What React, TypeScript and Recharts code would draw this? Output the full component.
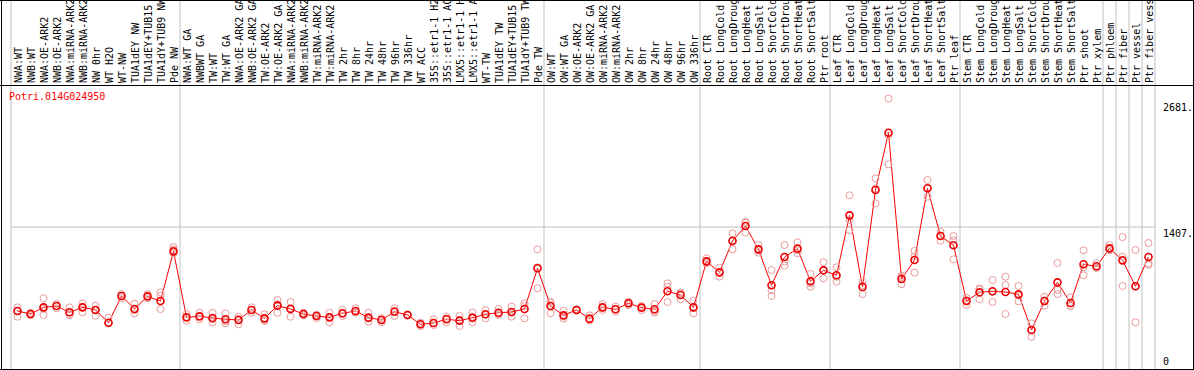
import { ComposedChart, Line, Scatter, XAxis, YAxis, ReferenceLine } from "recharts";

const gene = "Potri.014G024950";

// sample names, cut to 14 characters as in the source plot
const labels = [
  "NWA:WT", "NWB:WT", "NWA:OE-ARK2", "NWB:OE-ARK2", "NWA:miRNA-ARK2", "NWB:miRNA-ARK2",
  "NW 0hr", "WT H2O", "WT-NW", "TUA1dEY NW", "TUA1dEY+TUB15", "TUA1dY+TUB9 NW", "Pde NW",
  "NWA:WT GA", "NWBWT GA", "TW:WT", "TW:WT GA", "NWA:OE-ARK2 GA", "NWB:OE-ARK2 GA",
  "TW:OE-ARK2", "TW:OE-ARK2 GA", "NWA:miRNA-ARK2", "NWB:miRNA-ARK2", "TW:miRNA-ARK2",
  "TW:miRNA-ARK2", "TW 2hr", "TW 8hr", "TW 24hr", "TW 48hr", "TW 96hr", "TW 336hr", "WT ACC",
  "35S::etr1-1 H2", "35S::etr1-1 AC", "LMX5::etr1-1 H", "LMX5::etr1-1 A", "WT-TW",
  "TUA1dEY TW", "TUA1dEY+TUB15", "TUA1dY+TUB9 TW", "Pde TW",
  "OW:WT", "OW:WT GA", "OW:OE-ARK2", "OW:OE-ARK2 GA", "OW:miRNA-ARK2", "OW:miRNA-ARK2",
  "OW 2hr", "OW 8hr", "OW 24hr", "OW 48hr", "OW 96hr", "OW 336hr",
  "Root CTR", "Root LongCold", "Root LongDroug", "Root LongHeat", "Root LongSalt",
  "Root ShortCold", "Root ShortDrou", "Root ShortHeat", "Root ShortSalt", "Ptr root",
  "Leaf CTR", "Leaf LongCold", "Leaf LongDroug", "Leaf LongHeat", "Leaf LongSalt",
  "Leaf ShortCold", "Leaf ShortDrou", "Leaf ShortHeat", "Leaf ShortSalt", "Ptr leaf",
  "Stem CTR", "Stem LongCold", "Stem LongDroug", "Stem LongHeat", "Stem LongSalt",
  "Stem ShortCold", "Stem ShortDrou", "Stem ShortHeat", "Stem ShortSalt", "Ptr shoot",
  "Ptr xylem", "Ptr phloem", "Ptr fiber", "Ptr vessel", "Ptr fiber vess",
];

const means = [
  575, 545, 611, 624, 562, 611, 585, 459, 724, 595, 720, 674, 1166,
  512, 522, 505, 493, 486, 585, 502, 628, 595, 545, 525, 512, 552, 575, 509, 486, 568,
  535, 443, 456, 493, 479, 509, 542, 558, 565, 595, 998,
  624, 532, 585, 499, 611, 592, 651, 608, 592, 770, 733, 611,
  1067, 958, 1269, 1417, 1186, 830, 1110, 1193, 869, 978,
  929, 1523, 813, 1774, 2342, 892, 1080, 1791, 1318, 1226,
  674, 760, 770, 763, 740, 387, 674, 859, 654, 1038, 1018,
  1196, 1077, 820, 1110,
];

const rep1 = [
  611, 558, 701, 644, 611, 651, 628, 509, 743, 647, 743, 760, 1209,
  545, 558, 558, 552, 518, 611, 542, 684, 664, 558, 532, 558, 585, 602, 558, 505, 602,
  540, 459, 493, 518, 525, 562, 585, 595, 618, 651, 1186,
  667, 578, 592, 532, 644, 618, 667, 624, 644, 849, 750, 677,
  1097, 1004, 1345, 1460, 1229, 981, 1229, 1256, 942, 1058,
  1008, 1722, 865, 1890, 2681, 925, 1170, 1873, 1361, 1318,
  680, 790, 882, 915, 823, 453, 717, 1051, 711, 1176, 1048,
  1229, 1308, 1180, 1249,
];

const rep2 = [
  518, 532, 535, 602, 535, 562, 528, 453, 701, 552, 701, 727, 1186,
  479, 493, 463, 453, 443, 558, 476, 558, 518, 532, 505, 463, 525, 558, 469, 463, 525,
  530, 426, 436, 463, 426, 463, 502, 535, 518, 624, 800,
  552, 499, 578, 486, 585, 568, 634, 585, 558, 816, 691, 552,
  1048, 915, 1186, 1450, 1153, 783, 1064, 1147, 816, 899,
  865, 1477, 743, 1642, 2029, 840, 955, 1708, 1272, 1087,
  634, 691, 664, 833, 671, 320, 628, 743, 624, 929, 1003,
  1180, 1113, 463, 1048,
];

const rep3 = [
  575, 545, 597, 624, 540, 615, 585, 459, 724, 586, 720, 594, 1147,
  512, 522, 494, 474, 497, 585, 488, 642, 603, 545, 538, 515, 546, 565, 500, 490, 577,
  535, 443, 456, 498, 486, 502, 539, 544, 559, 502, 1008,
  653, 519, 585, 480, 604, 590, 652, 615, 574, 664, 758, 604,
  1056, 955, 1276, 1351, 1176, 724, 1024, 1176, 849, 977,
  914, 1378, 831, 1790, 2316, 911, 1115, 1792, 1321, 1273,
  705, 799, 764, 545, 726, 388, 677, 783, 627, 1009, 1003,
  1179, 823, 817, 1033,
];

// boundaries between sample groups, in sample-index units
const groupEdges = [0, 13, 41, 53, 63, 73, 84, 85, 86, 87, 88];
const yTicks = [0, 1407, 2681];
const yMax = 2815; // top of the axis: 2681 plus about 5%

const lineData = means.map((v, i) => ({ x: i + 0.5, mean: v }));
const repData = [rep1, rep2, rep3].flatMap((r) => r.map((v, i) => ({ x: i + 0.5, rep: v })));
const mono = "'DejaVu Sans Mono', monospace";

function SampleTick(props: any) {
  const { x, payload } = props;
  const name = labels[Math.floor(payload.value)];
  return (
    <text
      transform={`translate(${x + 4},83) rotate(-90)`}
      fontSize={10}
      fontFamily={mono}
      fill="#000"
      textAnchor="start"
    >
      {name}
    </text>
  );
}

function ValueTick(props: any) {
  const { x, y, payload } = props;
  const dy = payload.value === 0 ? -4 : payload.value === 2681 ? 12 : 10;
  return (
    <text x={x} y={y + dy} fontSize={10} fontFamily={mono} fill="#000" textAnchor="start">
      {payload.value === 0 ? "0" : `${payload.value}.`}
    </text>
  );
}

const GroupLine = (p: any) => (
  <line x1={p.x1} x2={p.x2} y1={0} y2={p.y2} stroke="#c0c0c0" strokeWidth={1} />
);

const RepDot = (p: any) => (
  <circle cx={p.cx} cy={p.cy} r={3.5} fill="none" stroke="#eb9a9a" strokeWidth={1} />
);

const hline = (top: number): React.CSSProperties => ({
  position: "absolute", left: 0, top, width: 1194, height: 1, background: "#000",
});

export default function App() {
  return (
    <div style={{ position: "absolute", left: 0, top: 0, width: 1194, height: 370, background: "#fff" }}>
      <ComposedChart
        width={1194}
        height={370}
        margin={{ top: 0, right: 0, bottom: 1, left: 11 }}
      >
        <XAxis
          dataKey="x"
          type="number"
          domain={[0, labels.length]}
          orientation="top"
          height={85}
          ticks={labels.map((_, i) => i + 0.5)}
          interval={0}
          tick={<SampleTick />}
          tickLine={false}
          axisLine={false}
          allowDataOverflow
        />
        <YAxis
          orientation="right"
          width={39}
          type="number"
          domain={[0, yMax]}
          ticks={yTicks}
          interval={0}
          tick={<ValueTick />}
          tickLine={false}
          axisLine={false}
          allowDataOverflow
        />
        <ReferenceLine y={1407} stroke="#c0c0c0" strokeWidth={1} />
        {groupEdges.map((e) => (
          <ReferenceLine key={e} x={e} shape={GroupLine} />
        ))}
        <Scatter data={repData} dataKey="rep" shape={RepDot} isAnimationActive={false} />
        <Line
          data={lineData}
          dataKey="mean"
          type="linear"
          stroke="#ff0000"
          strokeWidth={1}
          dot={{ r: 3.5, stroke: "#ee0000", strokeWidth: 1.6, fill: "none" }}
          activeDot={false}
          isAnimationActive={false}
        />
      </ComposedChart>
      <div style={hline(0)} />
      <div style={hline(85)} />
      <div style={hline(369)} />
      <div style={{ position: "absolute", left: 1, top: 0, width: 1, height: 370, background: "#000" }} />
      <div style={{ position: "absolute", left: 1193, top: 0, width: 1, height: 370, background: "#000" }} />
      <div
        style={{
          position: "absolute", left: 9, top: 91, fontFamily: mono, fontSize: 10,
          color: "#ff0000", lineHeight: "12px", whiteSpace: "nowrap",
        }}
      >
        {gene}
      </div>
    </div>
  );
}
